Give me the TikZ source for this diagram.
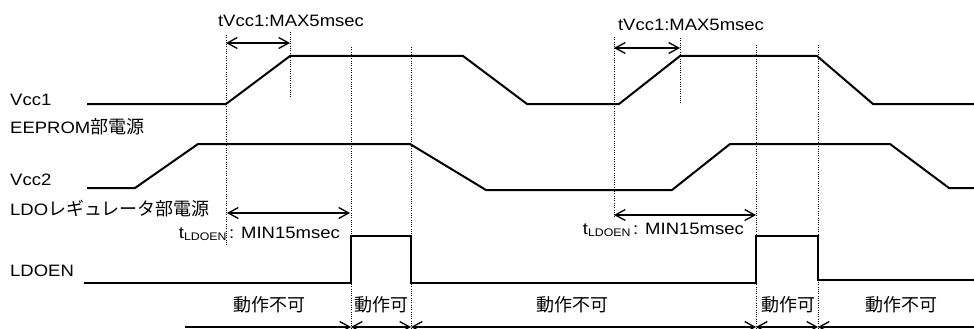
\documentclass[tikz,border=0pt]{standalone}
\usepackage{fontspec}
\setmainfont{Liberation Sans}[FakeStretch=1.12]
\newfontfamily\jp{Noto Sans CJK JP}
\usetikzlibrary{arrows.meta}
\tikzset{
  sig/.style={line width=2pt, line join=miter},
  dotln/.style={line width=1pt, dash pattern=on 1pt off 1.3pt},
  barb/.tip={Straight Barb[length=10pt,width=11pt,line width=1.3pt]},
  dim/.style={line width=1.3pt},
  lbl/.style={font=\fontsize{16.5}{18}\selectfont, inner sep=0pt, anchor=base west},
  note/.style={font=\fontsize{16.5}{18}\selectfont, inner sep=0pt},
  jlbl/.style={font=\fontsize{18}{20}\selectfont\jp, inner sep=0pt},
}
\begin{document}
\begin{tikzpicture}[x=1pt,y=-1pt]
\useasboundingbox (0,0) rectangle (974,329);
% signal labels
\node[lbl] (l1) at (10,105) {Vcc1};
\node[lbl] (l2) at (10,133.5) {EEPROM{\jp\fontsize{18}{20}\selectfont 部電源}};
\node[lbl] (l3) at (10,185) {Vcc2};
\node[lbl] (l4) at (10,215) {LDO{\jp\fontsize{18}{20}\selectfont レギュレータ部電源}};
\node[lbl] (l5) at (10,276) {LDOEN};
% signals
\draw[sig] (87,104) -- (226,104) -- (290,56) -- (463,56) -- (527,104) -- (619,104) -- (680,56) -- (817,56) -- (873,104) -- (974,104);
\draw[sig] (87,188) -- (135,188) -- (198,144) -- (410,144) -- (486,190) -- (672,190) -- (730,144) -- (890,144) -- (949,188) -- (974,188);
\draw[sig] (84,283) -- (351,283) -- (351,236) -- (411,236) -- (411,283) -- (756,283) -- (756,236) -- (818,236) -- (818,280) -- (974,280);
% dotted guides
\draw[dotln] (226,35) -- (226,245);
\draw[dotln] (290,32) -- (290,97);
\draw[dotln] (351,47) -- (351,329);
\draw[dotln] (411,47) -- (411,329);
\draw[dotln] (614,37) -- (614,218);
\draw[dotln] (680,38) -- (680,103);
\draw[dotln] (756,45) -- (756,329);
\draw[dotln] (818,45) -- (818,329);
% timing arrows
\coordinate (a1) at (226,43); \coordinate (b1) at (290,43);
\coordinate (a2) at (614,48); \coordinate (b2) at (680,48);
\coordinate (c1) at (227,213); \coordinate (d1) at (350,213);
\coordinate (c2) at (614,215); \coordinate (d2) at (756,215);
\draw[dim,barb-barb] (a1) -- (b1);
\draw[dim,barb-barb] (a2) -- (b2);
\draw[dim,barb-barb] (c1) -- (d1);
\draw[dim,barb-barb] (c2) -- (d2);
\node[note, anchor=base] (t1) at (291,26.7) {tVcc1:MAX5msec};
\node[note, anchor=base] (t2) at (691,30.7) {tVcc1:MAX5msec};
\node[note, anchor=base east] (t3) at (340,238) {t{\fontsize{11}{12}\selectfont\raisebox{-2.5pt}{LDOEN}}\,: MIN15msec};
\node[note, anchor=base east] (t4) at (744,234) {t{\fontsize{11}{12}\selectfont\raisebox{-2.5pt}{LDOEN}}\,: MIN15msec};
% bottom operating ranges
\coordinate (e0) at (185,327);
\coordinate (e1) at (351,327);
\coordinate (e2) at (411,327);
\coordinate (e3) at (756,327);
\coordinate (e4) at (818,327);
\coordinate (e5) at (980,327);
\draw[dim,-barb] (e0) -- (e1);
\draw[dim,barb-barb] (e1) -- (e2);
\draw[dim,barb-barb] (e2) -- (e3);
\draw[dim,barb-barb] (e3) -- (e4);
\draw[dim,barb-] (e4) -- (e5);
\node[jlbl] (j1) at (269,305) {動作不可};
\node[jlbl] (j2) at (381,305) {動作可};
\node[jlbl] (j3) at (572,305) {動作不可};
\node[jlbl] (j4) at (788,305) {動作可};
\node[jlbl] (j5) at (901,305) {動作不可};
\end{tikzpicture}
\end{document}
